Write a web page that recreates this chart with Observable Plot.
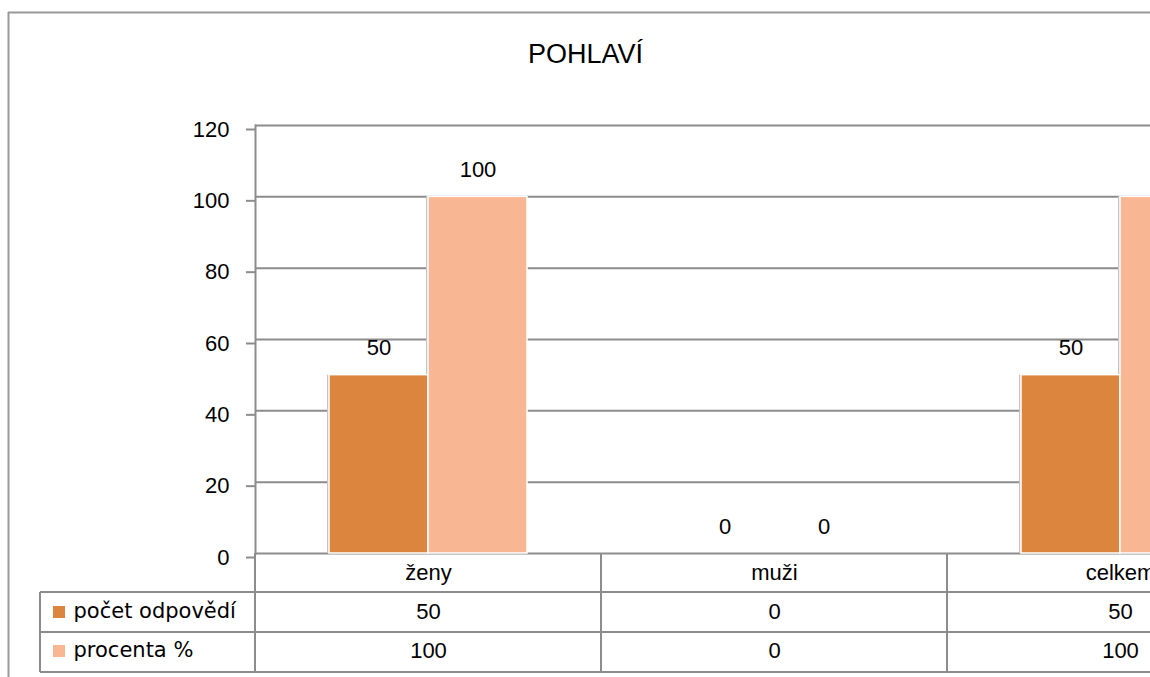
<!DOCTYPE html>
<html><head><meta charset="utf-8">
<script src="https://cdn.jsdelivr.net/npm/d3@7"></script>
<script src="https://cdn.jsdelivr.net/npm/@observablehq/plot@0.6"></script>
<style>
html,body{margin:0;padding:0;background:#fff;overflow:hidden}
#chart svg{display:block;overflow:hidden}
</style>
</head><body><div id="chart"></div>
<script>
const chartTitle = "POHLAVÍ";
const categories = ["ženy", "muži", "celkem"];
const seriesNames = ["počet odpovědí", "procenta %"];
const pocet = [50, 0, 50];
const procenta = [100, 0, 100];
const yTicks = [0, 20, 40, 60, 80, 100, 120];
const colors = ["#DC853E", "#F9B692"];

(function () {
const W = 1150, H = 677;
const pLeft = 255, pRight = 1293, pTop = 125, pBottom = 553;
const band = (pRight - pLeft) / categories.length;
const barW = 99;
const gap = (band - 2 * barW) / 2;
const gridColor = "#8c8c8c";
const sans = "'Liberation Sans', Arial, sans-serif";
const deja = "'DejaVu Sans', Verdana, sans-serif";

const rows = categories.map((c, i) => ({category: c, pocet: pocet[i], procenta: procenta[i]}));

const plot = Plot.plot({
  width: W, height: H,
  marginLeft: pLeft, marginRight: 0, marginTop: pTop, marginBottom: H - pBottom,
  style: {fontFamily: sans, fontSize: "22px", color: "#000", background: "#fff"},
  x: {domain: categories, range: [pLeft, pRight], padding: 0, axis: null},
  y: {domain: [0, 120], axis: null},
  marks: [
    Plot.gridY(yTicks, {stroke: gridColor, strokeOpacity: 1, strokeWidth: 2}),
    Plot.axisY(yTicks, {tickSize: 9, tickPadding: 17, stroke: gridColor, strokeWidth: 2, fill: "#000", fontSize: 22, dy: 4, label: null}),
    Plot.frame({anchor: "left", stroke: gridColor, strokeWidth: 2}),
    Plot.barY(rows.filter(d => d.pocet > 0), {x: "category", y: "pocet", fill: "#c4c4c4", insetLeft: gap, insetRight: gap + barW, dx: -2}),
    Plot.barY(rows.filter(d => d.procenta > 0), {x: "category", y: "procenta", fill: "#c4c4c4", insetLeft: gap + barW, insetRight: gap, dx: -2}),
    Plot.barY(rows.filter(d => d.pocet > 0), {x: "category", y: "pocet", fill: colors[0], insetLeft: gap, insetRight: gap + barW, stroke: "#fff", strokeWidth: 1.5}),
    Plot.barY(rows.filter(d => d.procenta > 0), {x: "category", y: "procenta", fill: colors[1], insetLeft: gap + barW, insetRight: gap, stroke: "#fff", strokeWidth: 1.5}),
    Plot.text(rows, {x: "category", y: "pocet", text: d => String(d.pocet), dx: -barW / 2, dy: -27, fontSize: 22, fill: "#000"}),
    Plot.text(rows, {x: "category", y: "procenta", text: d => String(d.procenta), dx: barW / 2, dy: -27, fontSize: 22, fill: "#000"}),
    Plot.text([chartTitle], {frameAnchor: "top-left", lineAnchor: "middle", dx: 585 - pLeft, dy: 54 - pTop, text: d => d, fontSize: 27, textAnchor: "middle", fill: "#000"}),
    Plot.text(rows, {x: "category", text: "category", frameAnchor: "bottom", lineAnchor: "middle", dy: 19, fontSize: 22, fill: "#000"}),
    Plot.text(rows, {x: "category", text: d => String(d.pocet), frameAnchor: "bottom", lineAnchor: "middle", dy: 58, fontSize: 22, fill: "#000"}),
    Plot.text(rows, {x: "category", text: d => String(d.procenta), frameAnchor: "bottom", lineAnchor: "middle", dy: 97, fontSize: 22, fill: "#000"}),
    Plot.text([seriesNames[0]], {frameAnchor: "bottom-left", lineAnchor: "middle", text: d => d, dx: 73 - pLeft, dy: 58, textAnchor: "start", fontSize: 21, fontFamily: deja, fill: "#000"}),
    Plot.text([seriesNames[1]], {frameAnchor: "bottom-left", lineAnchor: "middle", text: d => d, dx: 73 - pLeft, dy: 97, textAnchor: "start", fontSize: 21, fontFamily: deja, fill: "#000"})
  ]
});

document.getElementById("chart").appendChild(plot);

const svg = d3.select(plot);
const xs = plot.scale("x");
const rowLines = [592, 632, 672];
const tableLeft = 40;
const g = svg.append("g").attr("stroke", gridColor).attr("stroke-width", 2);
rowLines.forEach(y => g.append("line").attr("x1", tableLeft).attr("x2", W).attr("y1", y).attr("y2", y));
g.append("line").attr("x1", tableLeft).attr("x2", tableLeft).attr("y1", rowLines[0]).attr("y2", rowLines[2]);
categories.forEach(c => {
  const x = xs.apply(c);
  g.append("line").attr("x1", x).attr("x2", x).attr("y1", pBottom).attr("y2", rowLines[2]);
});
seriesNames.forEach((s, i) => {
  svg.append("rect").attr("x", 53).attr("y", (i === 0 ? 606 : 645)).attr("width", 12).attr("height", 12).attr("fill", colors[i]);
});
const f = svg.append("g").attr("stroke", "#999").attr("stroke-width", 2);
f.append("line").attr("x1", 8.5).attr("x2", 8.5).attr("y1", 12).attr("y2", H);
f.append("line").attr("x1", 8).attr("x2", W).attr("y1", 12.5).attr("y2", 12.5);
})();
</script>
</body></html>
